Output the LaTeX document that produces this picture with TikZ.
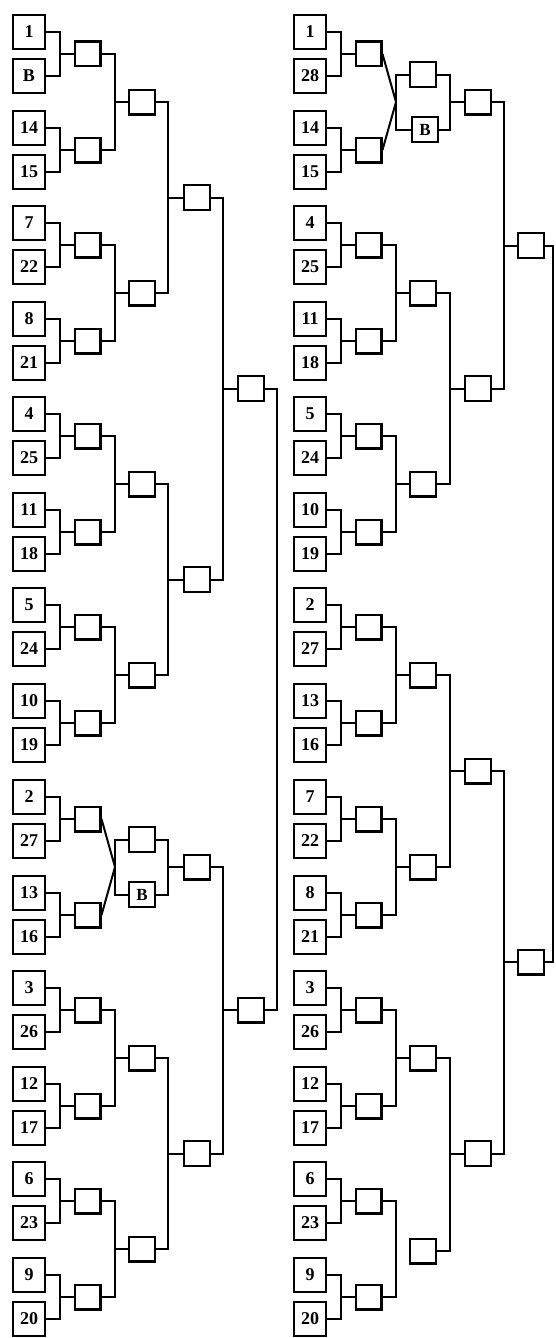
\documentclass[tikz,border=0pt]{standalone}
\usepackage{fontspec}
\setmainfont{Liberation Serif}
\newcommand{\brk}[4]{%
  \draw[conn] (#1.east) -- (#1.east -| #4) |- (#2.east);
  \draw[conn] (#3.west) -- (#3.west -| #4);}
\newcommand{\Pairs}[8]{%
  \node[entry] (#1e1) at (29+#2,#3) {#4};
  \node[entry] (#1e2) at (29+#2,#3+44) {#5};
  \node[entry] (#1e3) at (29+#2,#3+96) {#6};
  \node[entry] (#1e4) at (29+#2,#3+140) {#7};
  \node[slot] (#1a) at (87.5+#2,#3+22) {};
  \node[slot] (#1b) at (87.5+#2,#3+118) {};
  \brk{#1e1}{#1e2}{#1a}{#8A}
  \brk{#1e3}{#1e4}{#1b}{#8A}}
\begin{document}
\begin{tikzpicture}[x=1pt,y=-1pt,
  entry/.style={draw, line width=2.4pt, minimum width=31.6pt, minimum height=33.6pt,
    inner sep=0pt, font=\fontsize{18}{18}\selectfont\bfseries},
  slot/.style={draw, line width=2.4pt, minimum width=25.6pt, minimum height=24.6pt,
    inner sep=0pt, font=\fontsize{17}{17}\selectfont\bfseries},
  conn/.style={line width=2pt, line join=miter}]
\fill[white] (0,0) rectangle (555,1338);
\useasboundingbox (0,0) rectangle (555,1338);
% bracket x levels
\coordinate (LA) at (60,0);  \coordinate (LB) at (115,0);
\coordinate (LC) at (168,0); \coordinate (LD) at (223,0);
\coordinate (LE) at (277,0);
\coordinate (RA) at (341,0); \coordinate (RB) at (396,0);
\coordinate (RC) at (450,0); \coordinate (RD) at (504,0);
\coordinate (RE) at (553,0);

% ---------------- left column ----------------
\Pairs{L0}{0}{32}{1}{B}{14}{15}{L}
\Pairs{L1}{0}{223}{7}{22}{8}{21}{L}
\Pairs{L2}{0}{414}{4}{25}{11}{18}{L}
\Pairs{L3}{0}{605}{5}{24}{10}{19}{L}
\Pairs{L4}{0}{797}{2}{27}{13}{16}{L}
\Pairs{L5}{0}{988}{3}{26}{12}{17}{L}
\Pairs{L6}{0}{1179}{6}{23}{9}{20}{L}

\node[slot] (L0c) at (142,102) {};  \brk{L0a}{L0b}{L0c}{LB}
\node[slot] (L1c) at (142,293) {};  \brk{L1a}{L1b}{L1c}{LB}
\node[slot] (L2c) at (142,484) {};  \brk{L2a}{L2b}{L2c}{LB}
\node[slot] (L3c) at (142,675) {};  \brk{L3a}{L3b}{L3c}{LB}
\node[slot] (L5c) at (142,1058) {}; \brk{L5a}{L5b}{L5c}{LB}
\node[slot] (L6c) at (142,1249) {}; \brk{L6a}{L6b}{L6c}{LB}

% special group (bye)
\coordinate (L4v) at (115,867);
\draw[conn] (L4a.east) -- (L4v) -- (L4b.east);
\node[slot] (L4x) at (142,839.5) {};
\node[slot] (L4y) at (142,894.5) {B};
\draw[conn] (L4x.west) -- (L4x.west -| L4v) -- (L4y.west -| L4v) -- (L4y.west);
\node[slot] (L4c) at (197,867) {}; \brk{L4x}{L4y}{L4c}{LC}

\node[slot] (L01) at (197,197.5) {}; \brk{L0c}{L1c}{L01}{LC}
\node[slot] (L23) at (197,579.5) {}; \brk{L2c}{L3c}{L23}{LC}
\node[slot] (L56) at (197,1153.5) {}; \brk{L5c}{L6c}{L56}{LC}

\node[slot] (Lt) at (251,388.5) {}; \brk{L01}{L23}{Lt}{LD}
\node[slot] (Lb) at (251,1010) {};  \brk{L4c}{L56}{Lb}{LD}
\draw[conn] (Lt.east) -- (Lt.east -| LE) |- (Lb.east);

% ---------------- right column ----------------
\Pairs{R0}{281}{32}{1}{28}{14}{15}{R}
\Pairs{R1}{281}{223}{4}{25}{11}{18}{R}
\Pairs{R2}{281}{414}{5}{24}{10}{19}{R}
\Pairs{R3}{281}{605}{2}{27}{13}{16}{R}
\Pairs{R4}{281}{797}{7}{22}{8}{21}{R}
\Pairs{R5}{281}{988}{3}{26}{12}{17}{R}
\Pairs{R6}{281}{1179}{6}{23}{9}{20}{R}

% special group (bye)
\coordinate (R0v) at (396,102);
\draw[conn] (R0a.east) -- (R0v) -- (R0b.east);
\node[slot] (R0x) at (423,74.5) {};
\node[slot] (R0y) at (425,129.5) {B};
\draw[conn] (R0x.west) -- (R0x.west -| R0v) -- (R0y.west -| R0v) -- (R0y.west);
\node[slot] (R0c) at (478,102) {}; \brk{R0x}{R0y}{R0c}{RC}

\node[slot] (R1c) at (423,293) {};  \brk{R1a}{R1b}{R1c}{RB}
\node[slot] (R2c) at (423,484) {};  \brk{R2a}{R2b}{R2c}{RB}
\node[slot] (R3c) at (423,675) {};  \brk{R3a}{R3b}{R3c}{RB}
\node[slot] (R4c) at (423,867) {};  \brk{R4a}{R4b}{R4c}{RB}
\node[slot] (R5c) at (423,1058) {}; \brk{R5a}{R5b}{R5c}{RB}
\node[slot] (R6c) at (423,1251) {};
\draw[conn] (R6a.east) -- (R6a.east -| RB) |- (R6b.east);

\node[slot] (R12) at (478,388.5) {}; \brk{R1c}{R2c}{R12}{RC}
\node[slot] (R34) at (478,771) {};   \brk{R3c}{R4c}{R34}{RC}
\node[slot] (R56) at (478,1153.5) {}; \brk{R5c}{R6c}{R56}{RC}

\node[slot] (Rt) at (531,245.5) {}; \brk{R0c}{R12}{Rt}{RD}
\node[slot] (Rb) at (531,962) {};   \brk{R34}{R56}{Rb}{RD}
\draw[conn] (Rt.east) -- (Rt.east -| RE) |- (Rb.east);
\end{tikzpicture}
\end{document}
